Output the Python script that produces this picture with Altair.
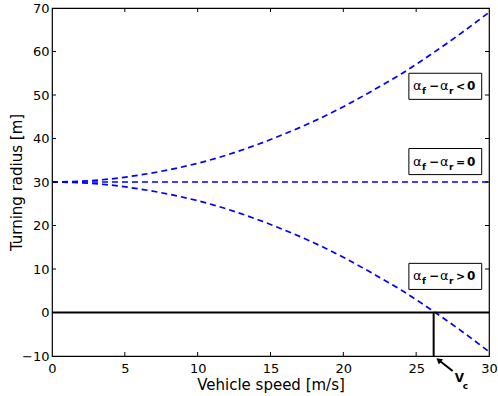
import altair as alt
import pandas as pd

# ---- data ----
speeds = [0, 2, 4, 6, 8, 10, 12, 14, 16, 18, 20, 22, 24, 26, 28, 30]
radius_under = [30.0, 30.2, 30.7, 31.6, 32.8, 34.3, 36.2, 38.5, 41.1, 44.0, 47.3, 51.0, 54.9, 59.3, 64.0, 69.0]
radius_neutral = [30.0] * 16
radius_over = [30.0, 29.8, 29.3, 28.4, 27.2, 25.7, 23.8, 21.5, 18.9, 16.0, 12.7, 9.0, 5.1, 0.7, -4.0, -9.0]
critical_speed = 26.2

x_ticks = [0, 5, 10, 15, 20, 25, 30]
y_ticks = [-10, 0, 10, 20, 30, 40, 50, 60, 70]

label_relations = ["<", "=", ">"]
label_centers = [52.0, 34.7, 8.3]
label_left = 24.5
label_right = 29.5
label_half = 3.0

W, H = 437, 348
FONT = "DejaVu Sans"

curves = pd.DataFrame({
    "v": speeds * 3,
    "R": radius_under + radius_neutral + radius_over,
    "case": ["under"] * 16 + ["neutral"] * 16 + ["over"] * 16,
})

xs = alt.Scale(domain=[0, 30], nice=False, zero=False)
ys = alt.Scale(domain=[-10, 70], nice=False, zero=False)

base = alt.Chart(curves)

lines = base.mark_line(color="#0000ff", strokeDash=[6, 4], strokeWidth=1.7,
                       interpolate="monotone").encode(
    x=alt.X("v:Q", scale=xs, axis=alt.Axis(
        title="Vehicle speed [m/s]", values=x_ticks, grid=False, ticks=False, tickSize=0,
        domain=False, labelFont=FONT, labelFontSize=13, labelColor="black",
        labelPadding=6, labelFlush=False, titleFont=FONT, titleFontSize=15,
        titleFontWeight="normal", titleColor="black", titleY=33,
        titleBaseline="alphabetic")),
    y=alt.Y("R:Q", scale=ys, axis=alt.Axis(
        title="Turning radius [m]", values=y_ticks, grid=False, ticks=False, tickSize=0,
        domain=False, labelFont=FONT, labelFontSize=13, labelColor="black",
        labelPadding=3, labelFlush=False, titleFont=FONT, titleFontSize=15,
        titleFontWeight="normal", titleColor="black", titleX=-31, titleY=H / 2,
        titleBaseline="alphabetic", titleAngle=-90)),
    detail="case:N",
)

zero_df = pd.DataFrame({"x0": [0], "x1": [30], "y": [0]})
zero_line = alt.Chart(zero_df).mark_rule(color="black", strokeWidth=2).encode(
    x=alt.X("x0:Q", scale=xs), x2="x1:Q", y=alt.Y("y:Q", scale=ys))

vc_df = pd.DataFrame({"vc": [critical_speed], "y0": [-10], "y1": [0]})
vc_line = alt.Chart(vc_df).mark_rule(color="black", strokeWidth=2).encode(
    x=alt.X("vc:Q", scale=xs), y=alt.Y("y0:Q", scale=ys), y2="y1:Q")

arrow_shaft = alt.Chart(vc_df).mark_rule(
    color="black", strokeWidth=2, xOffset=19, yOffset=15, x2Offset=5, y2Offset=4).encode(
    x=alt.X("vc:Q", scale=xs), x2="vc:Q", y=alt.Y("y0:Q", scale=ys), y2="y0:Q")
arrow_head = alt.Chart(vc_df).mark_point(
    shape="triangle-up", filled=True, color="black", opacity=1, size=45,
    angle=309, xOffset=5, yOffset=4).encode(
    x=alt.X("vc:Q", scale=xs), y=alt.Y("y0:Q", scale=ys))
vc_V = alt.Chart(vc_df).mark_text(
    text="V", font=FONT, fontSize=12, fontWeight="bold", align="left",
    baseline="alphabetic", dx=21, dy=26, color="black").encode(
    x=alt.X("vc:Q", scale=xs), y=alt.Y("y0:Q", scale=ys))
vc_c = alt.Chart(vc_df).mark_text(
    text="c", font=FONT, fontSize=9, fontWeight="bold", align="left",
    baseline="alphabetic", dx=29, dy=33, color="black").encode(
    x=alt.X("vc:Q", scale=xs), y=alt.Y("y0:Q", scale=ys))

# inward ticks (MATLAB style)
xt = pd.DataFrame({"t": x_ticks[1:-1]})
yt = pd.DataFrame({"t": y_ticks[1:-1]})
tick_bottom = alt.Chart(xt).mark_rule(color="black").encode(
    x=alt.X("t:Q", scale=xs), y=alt.value(H), y2=alt.value(H - 4))
tick_top = alt.Chart(xt).mark_rule(color="black").encode(
    x=alt.X("t:Q", scale=xs), y=alt.value(0), y2=alt.value(4))
tick_left = alt.Chart(yt).mark_rule(color="black").encode(
    y=alt.Y("t:Q", scale=ys), x=alt.value(0), x2=alt.value(4))
tick_right = alt.Chart(yt).mark_rule(color="black").encode(
    y=alt.Y("t:Q", scale=ys), x=alt.value(W), x2=alt.value(W - 4))

# boxed labels
lab = pd.DataFrame({
    "rel": label_relations,
    "yc": label_centers,
    "x0": [label_left] * 3,
    "x1": [label_right] * 3,
})
lab["y0"] = lab["yc"] - label_half
lab["y1"] = lab["yc"] + label_half

lab_base = alt.Chart(lab)
boxes = lab_base.mark_rect(fill="white", stroke="black", strokeWidth=1).encode(
    x=alt.X("x0:Q", scale=xs), x2="x1:Q", y=alt.Y("y0:Q", scale=ys), y2="y1:Q")

def piece(txt, dx, dy, size, weight, field=None):
    m = lab_base.mark_text(font=FONT, fontSize=size, fontWeight=weight, align="left",
                           baseline="alphabetic", dx=dx, dy=dy, color="black")
    enc = dict(x=alt.X("x0:Q", scale=xs), y=alt.Y("yc:Q", scale=ys))
    if field:
        enc["text"] = alt.Text(field + ":N")
    else:
        enc["text"] = alt.value(txt)
    return m.encode(**enc)

texts = [
    piece("α", 4, 4, 13, "normal"),
    piece("f", 13, 8, 9, "bold"),
    piece("−", 20, 4, 12, "bold"),
    piece("α", 31, 4, 13, "normal"),
    piece("r", 40, 8, 9, "bold"),
    piece(None, 47, 4, 11, "bold", field="rel"),
    piece("0", 58, 4, 12, "bold"),
]

chart = alt.layer(
    lines, zero_line, vc_line, tick_bottom, tick_top, tick_left, tick_right,
    boxes, *texts, arrow_shaft, arrow_head, vc_V, vc_c,
).properties(
    width=W, height=H,
    autosize=alt.AutoSizeParams(type="none"),
    padding={"left": 52, "top": 8, "right": 9, "bottom": 40},
    background="white",
).configure_view(stroke="black", strokeWidth=1.2)

chart.save("out.html", embed_options={"renderer": "svg", "actions": False})
